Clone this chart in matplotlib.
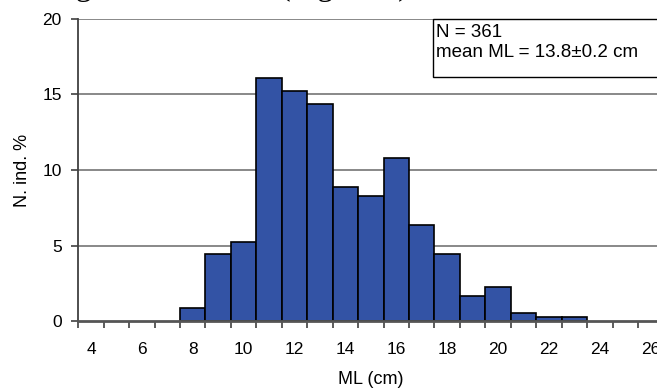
import matplotlib
matplotlib.use("Agg")
import matplotlib.pyplot as plt
from matplotlib.patches import Rectangle
from matplotlib.ticker import FixedLocator

# Data (length classes in cm and percentage of individuals)
categories = list(range(4, 27))
bar_classes = [8, 9, 10, 11, 12, 13, 14, 15, 16, 17, 18, 19, 20, 21, 22, 23]
pct_values = [0.83, 4.43, 5.26, 16.07, 15.24, 14.40, 8.86, 8.31, 10.80,
              6.37, 4.43, 1.66, 2.22, 0.55, 0.28, 0.28]
x_tick_labels = [str(c) for c in categories if c % 2 == 0]
y_ticks = [0, 5, 10, 15, 20]
title_text = "Length distribution (Figure 2)"
box_lines = ["N = 361", "mean ML = 13.8\u00b10.2 cm"]

plt.rcParams['font.family'] = ['Liberation Sans', 'DejaVu Sans']

W, H = 657, 390
fig = plt.figure(figsize=(W / 100, H / 100), dpi=100)
left_px, right_px = 78.3, 78.3 + 23 * 25.44
zero_px, top_px = 321, 19
ax = fig.add_axes([left_px / W, (H - zero_px) / H,
                   (right_px - left_px) / W, (zero_px - top_px) / H])

bar_color = "#3353A5"
ax.bar(bar_classes, pct_values, width=1.0, color=bar_color,
       edgecolor="black", linewidth=1.2, zorder=3)

ax.set_xlim(categories[0] - 0.5, categories[-1] + 0.5)
ax.set_ylim(0, 20)

# grid lines
for yv in y_ticks[1:]:
    ax.axhline(yv, color="#7f7f7f", linewidth=1.3, zorder=1)

ax.spines['top'].set_visible(False)
ax.spines['right'].set_visible(False)
ax.spines['left'].set_color("#404040")
ax.spines['left'].set_linewidth(1.3)
ax.spines['bottom'].set_color("#555555")
ax.spines['bottom'].set_linewidth(2.0)
ax.spines['bottom'].set_zorder(4)

ax.set_yticks(y_ticks)
ax.tick_params(axis='y', length=5, width=1.2, color="#404040",
               labelsize=12.5, pad=7)

even = [c for c in categories if c % 2 == 0]
ax.set_xticks(even)
ax.set_xticklabels(x_tick_labels)
ax.xaxis.set_minor_locator(FixedLocator([c - 0.5 for c in categories] + [categories[-1] + 0.5]))
ax.tick_params(axis='x', which='major', length=0, labelsize=12.5, pad=15)
ax.tick_params(axis='x', which='minor', length=5, width=1.2, color="#404040")

ax.set_xlabel("ML (cm)", fontsize=13, labelpad=10)
ax.set_ylabel("N. ind. %", fontsize=13)
ax.yaxis.set_label_coords(-0.08, 0.5)

# annotation box
ax.add_patch(Rectangle((0.6057, 0.809), 0.6, 0.191, transform=ax.transAxes,
                       facecolor="white", edgecolor="black", linewidth=1.0,
                       clip_on=False, zorder=5))
ax.text(0.611, 0.982, box_lines[0] + "\n" + box_lines[1], transform=ax.transAxes,
        ha='left', va='top', fontsize=13.5, linespacing=1.2, zorder=6)

# partially visible title at the very top (cropped in the reference)
fig.text(26 / W, 1 + 5 / H, title_text, family=['Liberation Serif', 'DejaVu Serif'],
         fontsize=23, va='baseline', ha='left')

fig.savefig("out.png", dpi=100)
